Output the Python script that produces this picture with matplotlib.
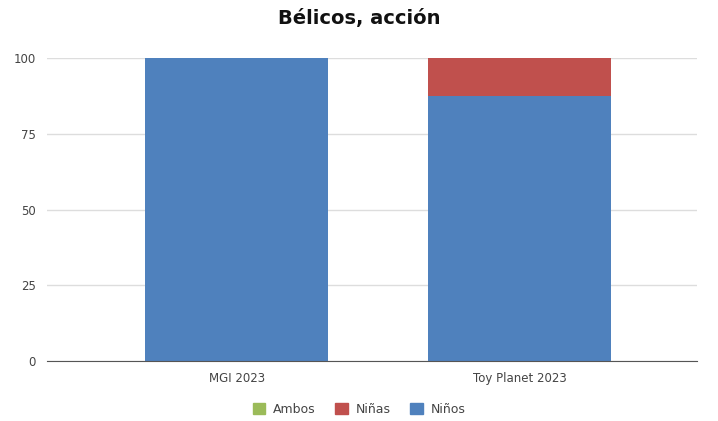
import matplotlib.pyplot as plt
import numpy as np

categories = ["MGI 2023", "Toy Planet 2023"]
ninos = [100, 87.5]
ninas = [0, 12.5]
ambos = [0, 0]

c_ambos = "#9bbb59"
c_ninas = "#c0504d"
c_ninos = "#4f81bd"

fig = plt.figure(figsize=(7.18, 4.21), dpi=100)
ax = fig.add_axes([0.0655, 0.1425, 0.9055, 0.7195])

x = np.arange(len(categories))
w = 0.647
ax.bar(x, ninos, w, color=c_ninos, zorder=2)
ax.bar(x, ninas, w, bottom=ninos, color=c_ninas, zorder=2)
ax.bar(x, ambos, w, bottom=np.array(ninos) + np.array(ninas), color=c_ambos, zorder=2)

ax.set_xlim(-0.67, 1.627)
ax.set_ylim(0, 100)
ax.set_yticks([0, 25, 50, 75, 100])
ax.set_xticks(x)
ax.set_xticklabels(categories)
ax.yaxis.grid(True, color="#dddddd", linewidth=1, zorder=0)
for s in ["top", "right", "left"]:
    ax.spines[s].set_visible(False)
ax.spines["bottom"].set_color("#555555")
ax.tick_params(axis="both", length=0, labelsize=8.5, colors="#444444", pad=8)

fig.suptitle("Bélicos, acción", x=0.5, y=0.978, fontsize=14, fontweight="bold", color="#111111")

handles = [plt.Rectangle((0, 0), 1, 1, color=c) for c in (c_ambos, c_ninas, c_ninos)]
fig.legend(handles, ["Ambos", "Niñas", "Niños"], loc="center", bbox_to_anchor=(0.5, 0.028),
           ncol=3, frameon=False, fontsize=9, handlelength=1, handleheight=1,
           columnspacing=1.6, handletextpad=0.6, labelcolor="#444444")

fig.savefig("out.png", dpi=100)
